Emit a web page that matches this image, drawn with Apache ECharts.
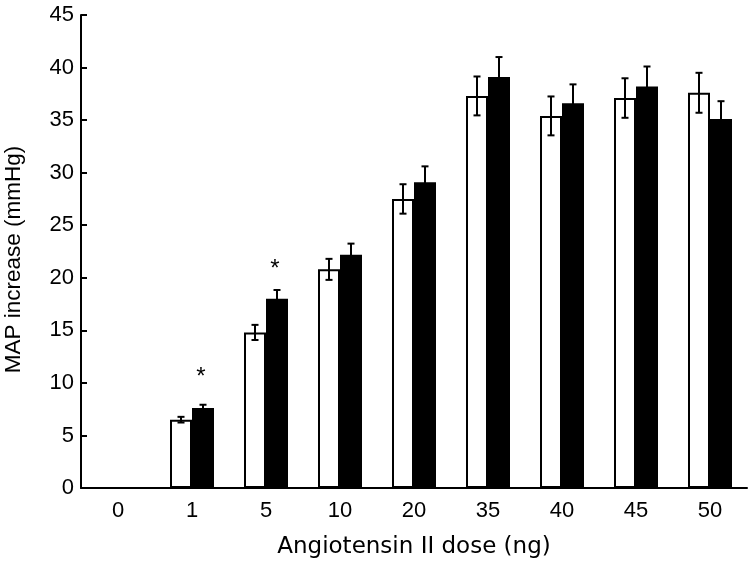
<!DOCTYPE html>
<html>
<head>
<meta charset="utf-8">
<script src="https://cdn.jsdelivr.net/npm/echarts@6/dist/echarts.min.js"></script>
<style>html,body{margin:0;padding:0;background:#fff}#c{width:750px;height:568px}</style>
</head>
<body>
<div id="c"></div>
<script>
var categories = ['0', '1', '5', '10', '20', '35', '40', '45', '50'];
var openMeans = [null, 6.5, 14.8, 20.8, 27.5, 37.3, 35.4, 37.1, 37.6];
var openErrors = [null, 0.27, 0.72, 1.0, 1.4, 1.85, 1.85, 1.88, 1.9];
var filledMeans = [null, 7.6, 18.0, 22.2, 29.1, 39.1, 36.6, 38.2, 35.1];
var filledErrors = [null, 0.32, 0.84, 1.05, 1.5, 1.9, 1.8, 1.9, 1.7];
var asteriskY = [null, 10.9, 21.2, null, null, null, null, null, null];
var yTicks = { min: 0, max: 45, interval: 5 };

var FONT = 'Liberation Sans';
var WIDE_FONT = 'DejaVu Sans';
var BAR_W = 22;

function errorSeries(means, errs, side) {
  var data = [];
  for (var i = 0; i < categories.length; i++) {
    if (means[i] == null) continue;
    data.push([i, means[i] - errs[i], means[i] + errs[i], means[i]]);
  }
  return {
    type: 'custom',
    z: 10,
    data: data,
    encode: { x: 0, y: [1, 2] },
    renderItem: function (params, api) {
      var ci = api.value(0);
      var lo = api.coord([ci, api.value(1)]);
      var hi = api.coord([ci, api.value(2)]);
      var x = lo[0] + side * BAR_W / 2;
      var cap = 3.5;
      var st = { stroke: '#000', lineWidth: 2, fill: null };
      return {
        type: 'group',
        children: [
          { type: 'line', shape: { x1: x, y1: lo[1], x2: x, y2: hi[1] }, style: st },
          { type: 'line', shape: { x1: x - cap, y1: lo[1], x2: x + cap, y2: lo[1] }, style: st },
          { type: 'line', shape: { x1: x - cap, y1: hi[1], x2: x + cap, y2: hi[1] }, style: st }
        ]
      };
    }
  };
}

var asteriskData = [];
for (var i = 0; i < categories.length; i++) {
  if (asteriskY[i] != null) asteriskData.push([i, asteriskY[i]]);
}

var chart = echarts.init(document.getElementById('c'), null, { renderer: 'canvas' });
chart.setOption({
  animation: false,
  backgroundColor: '#fff',
  grid: { left: 81, right: 3, top: 15, bottom: 80, containLabel: false, outerBoundsMode: 'none' },
  xAxis: {
    type: 'category',
    data: categories,
    name: 'Angiotensin II dose (ng)',
    nameLocation: 'middle',
    nameGap: 48,
    nameTextStyle: { fontFamily: WIDE_FONT, fontSize: 23, color: '#000' },
    axisLine: { lineStyle: { color: '#000', width: 2 } },
    axisTick: { inside: true, length: 6, lineStyle: { color: '#000', width: 2 } },
    axisLabel: { fontFamily: FONT, fontSize: 22, color: '#000', margin: 12 },
    splitLine: { show: false }
  },
  yAxis: {
    type: 'value',
    min: yTicks.min, max: yTicks.max, interval: yTicks.interval,
    name: 'MAP increase (mmHg)',
    nameLocation: 'middle',
    nameGap: 56,
    nameTextStyle: { fontFamily: FONT, fontSize: 22.5, color: '#000', padding: [0, 16, 0, 0] },
    axisLine: { show: true, lineStyle: { color: '#000', width: 2 } },
    axisTick: { show: true, inside: true, length: 6, lineStyle: { color: '#000', width: 2 } },
    axisLabel: { fontFamily: FONT, fontSize: 22, color: '#000', margin: 7 },
    splitLine: { show: false }
  },
  series: [
    {
      type: 'bar',
      data: openMeans,
      barWidth: BAR_W,
      barGap: '0%',
      itemStyle: { color: '#fff', borderColor: '#000', borderWidth: 2 }
    },
    {
      type: 'bar',
      data: filledMeans,
      barWidth: BAR_W,
      barGap: '0%',
      itemStyle: { color: '#000', borderColor: '#000', borderWidth: 2 }
    },
    errorSeries(openMeans, openErrors, -1),
    errorSeries(filledMeans, filledErrors, 1),
    {
      type: 'custom',
      z: 11,
      data: asteriskData,
      renderItem: function (params, api) {
        var p = api.coord([api.value(0), api.value(1)]);
        return {
          type: 'text',
          style: {
            x: p[0] + BAR_W / 2 - 2, y: p[1] + 4,
            text: '*', fontFamily: FONT, fontSize: 24, fill: '#000',
            align: 'center', verticalAlign: 'middle'
          }
        };
      }
    }
  ]
});
</script>
</body>
</html>
